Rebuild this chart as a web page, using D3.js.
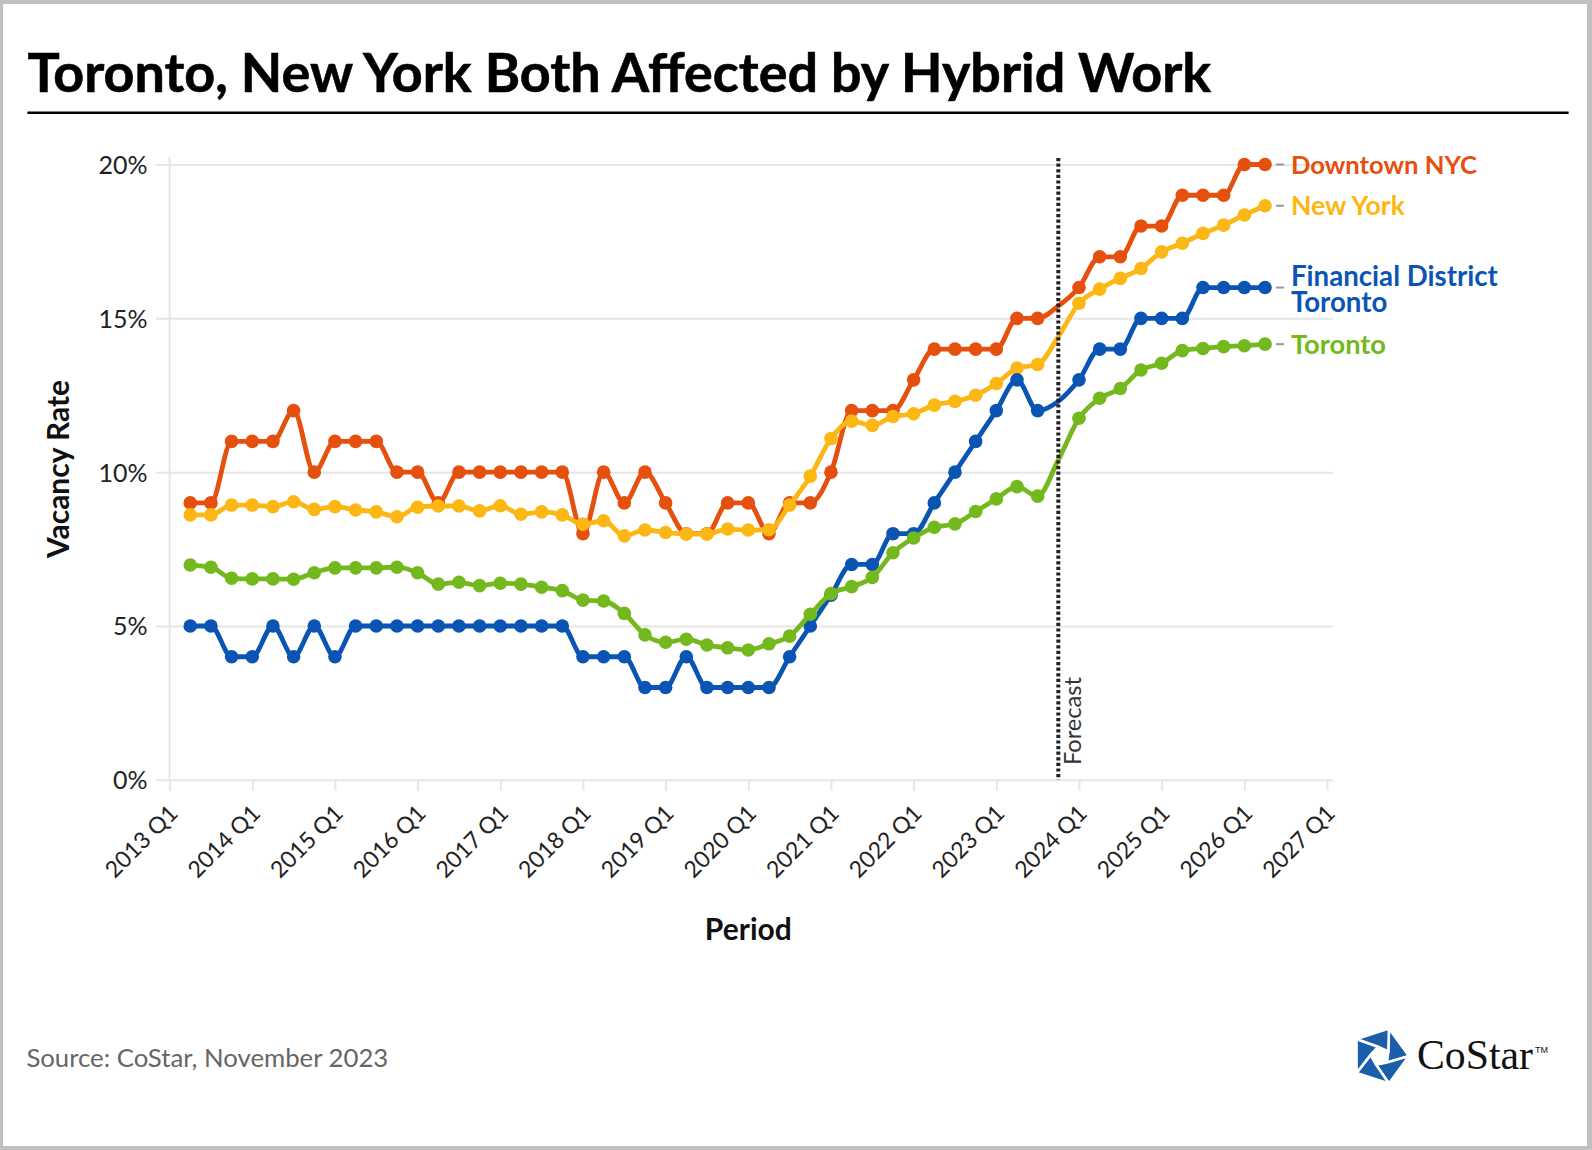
<!DOCTYPE html>
<html><head><meta charset="utf-8">
<script src="https://cdn.jsdelivr.net/npm/d3@7"></script>
<style>
html,body{margin:0;padding:0;background:#fff;}
svg{display:block;}
</style></head><body>
<svg id="chart" width="1592" height="1150"></svg>
<script>
// ---------------- DATA ----------------
const quarters = [
 "2013 Q2","2013 Q3","2013 Q4",
 "2014 Q1","2014 Q2","2014 Q3","2014 Q4",
 "2015 Q1","2015 Q2","2015 Q3","2015 Q4",
 "2016 Q1","2016 Q2","2016 Q3","2016 Q4",
 "2017 Q1","2017 Q2","2017 Q3","2017 Q4",
 "2018 Q1","2018 Q2","2018 Q3","2018 Q4",
 "2019 Q1","2019 Q2","2019 Q3","2019 Q4",
 "2020 Q1","2020 Q2","2020 Q3","2020 Q4",
 "2021 Q1","2021 Q2","2021 Q3","2021 Q4",
 "2022 Q1","2022 Q2","2022 Q3","2022 Q4",
 "2023 Q1","2023 Q2","2023 Q3","2023 Q4",
 "2024 Q1","2024 Q2","2024 Q3","2024 Q4",
 "2025 Q1","2025 Q2","2025 Q3","2025 Q4",
 "2026 Q1","2026 Q2"
];
const downtownNYC = [9,9,11,11,11,12,10,11,11,11,10,10,9,
 10,10,10,10,10,10,
 8,10,9,10,9,8,8,9,9,8,9,9,10,
 12,12,12,13,14,14,14,14,15,15,
 15.4,
 16,17,17,18,18,19,19,19,20,20];
const newYork = [8.61,8.61,8.93,8.93,8.88,9.04,8.79,8.88,8.77,8.71,8.55,8.86,8.90,
 8.90,8.74,8.91,8.63,8.71,8.61,8.31,8.42,7.93,8.12,8.04,7.99,7.99,8.15,8.12,8.13,8.93,9.87,11.09,
 11.66,11.52,11.81,11.90,12.18,12.30,12.50,12.88,13.38,13.50,
 14.4,
 15.49,15.95,16.30,16.62,17.16,17.44,17.76,18.03,18.36,18.66];
const financialDistrictToronto = [5,5,4,4,5,4,5,4,5,5,5,5,5,
 5,5,5,5,5,5,
 4,4,4,3,3,4,3,3,3,3,4,5,6,
 7,7,8,8,9,10,11,12,13,12,
 12.3,
 13,14,14,15,15,15,16,16,16,16];
const toronto = [6.98,6.91,6.55,6.53,6.53,6.52,6.73,6.89,6.89,6.89,6.91,6.73,6.36,
 6.42,6.31,6.39,6.36,6.26,6.15,5.84,5.81,5.41,4.71,4.47,4.57,4.38,4.29,4.22,4.42,4.67,5.38,6.05,
 6.28,6.58,7.38,7.86,8.21,8.32,8.72,9.13,9.53,9.22,
 10.4,
 11.75,12.40,12.72,13.32,13.54,13.95,14.02,14.08,14.11,14.16];
const seriesNames = ["Downtown NYC","New York","Financial District Toronto","Toronto"];
const seriesLabels = [["Downtown NYC"],["New York"],["Financial District","Toronto"],["Toronto"]];
const xTickLabels = ["2013 Q1","2014 Q1","2015 Q1","2016 Q1","2017 Q1","2018 Q1","2019 Q1",
 "2020 Q1","2021 Q1","2022 Q1","2023 Q1","2024 Q1","2025 Q1","2026 Q1","2027 Q1"];
const yTickValues = [0,5,10,15,20];
const forecastQuarter = "2023 Q4";

// ---------------- STYLE ----------------
const colors = {"Downtown NYC":"#E5500F","New York":"#FDB714",
  "Financial District Toronto":"#0A55B4","Toronto":"#73B91E"};
const FONT = "Lato, 'Open Sans', sans-serif";

function qIndex(label){ const p = label.split(" Q"); return (+p[0]-2013)*4 + (+p[1]-1); }
function fit(sel, target){
  const w = sel.node().getComputedTextLength();
  const fs = parseFloat(sel.attr("font-size"));
  if (w > 0) sel.attr("font-size", (fs*target/w).toFixed(2));
  return sel;
}

const svg = d3.select("#chart");
svg.append("rect").attr("width",1592).attr("height",1150).attr("fill","#c0c0c0");
svg.append("rect").attr("x",3).attr("y",4).attr("width",1584).attr("height",1142).attr("fill","#fff");

// title
const title = svg.append("text").attr("x",27.4).attr("y",92)
  .attr("font-family",FONT).attr("font-weight",700).attr("font-size",52).attr("fill","#000")
  .attr("stroke","#000").attr("stroke-width",0.6)
  .text("Toronto, New York Both Affected by Hybrid Work");
fit(title, 1184);
svg.append("line").attr("x1",27.4).attr("x2",1568.6).attr("y1",112.7).attr("y2",112.7)
  .attr("stroke","#000").attr("stroke-width",2.5);

// scales
const x = d3.scaleLinear().domain([0,56]).range([169.6,1327]);
const y = d3.scaleLinear().domain([0,20]).range([779.8,164.5]);

const gridColor = "#e6e6e6";
// gridlines
const gGrid = svg.append("g").attr("transform","translate(1333,0)")
  .call(d3.axisLeft(y).tickValues(yTickValues).tickSize(1333-156).tickFormat(""));
gGrid.select(".domain").remove();
gGrid.selectAll("line").attr("stroke",gridColor).attr("stroke-width",2);

// y axis labels
const gY = svg.append("g").attr("transform","translate(169.6,0)")
  .call(d3.axisLeft(y).tickValues(yTickValues).tickSize(0).tickPadding(22).tickFormat(d=>d+"%"));
gY.select(".domain").remove();
gY.selectAll("text").attr("font-family",FONT).attr("font-size",25).attr("fill","#222").attr("dy","0.36em");

// vertical axis line
svg.append("line").attr("x1",x(0)).attr("x2",x(0)).attr("y1",y(20.25)).attr("y2",y(0))
  .attr("stroke",gridColor).attr("stroke-width",2);

// x axis
const gX = svg.append("g").attr("transform",`translate(0,${y(0)})`)
  .call(d3.axisBottom(x).tickValues(xTickLabels.map(qIndex)).tickSize(11)
     .tickFormat((d,i)=>xTickLabels[i]));
gX.select(".domain").remove();
gX.selectAll("line").attr("stroke",gridColor).attr("stroke-width",2);
gX.selectAll("text").attr("font-family",FONT).attr("font-size",23).attr("fill","#222")
  .attr("x",0).attr("y",0).attr("dy",0).attr("text-anchor","end")
  .attr("transform","translate(9,35) rotate(-45)");

// axis titles
const yTitle = svg.append("text").attr("transform","translate(69,469) rotate(-90)")
  .attr("text-anchor","middle").attr("font-family",FONT).attr("font-weight",700)
  .attr("font-size",26).attr("fill","#111").text("Vacancy Rate");
fit(yTitle,178);
const xTitle = svg.append("text").attr("x",(x(0)+x(56))/2).attr("y",940)
  .attr("text-anchor","middle").attr("font-family",FONT).attr("font-weight",700)
  .attr("font-size",26).attr("fill","#111").text("Period");
fit(xTitle,87);

// series
const allSeries = [downtownNYC, newYork, financialDistrictToronto, toronto];
const line = d3.line().x((d,i)=>x(qIndex(quarters[i]))).y(d=>y(d)).curve(d3.curveMonotoneX);
allSeries.forEach((vals,si)=>{
  const name = seriesNames[si], c = colors[name];
  const g = svg.append("g");
  g.append("path").attr("d",line(vals)).attr("fill","none").attr("stroke",c)
    .attr("stroke-width",4.8).attr("stroke-linejoin","round").attr("stroke-linecap","round");
  g.selectAll("circle").data(vals.map((v,i)=>({v,q:quarters[i]})).filter(d=>d.q!==forecastQuarter))
    .join("circle").attr("cx",d=>x(qIndex(d.q))).attr("cy",d=>y(d.v)).attr("r",6.8).attr("fill",c);
});

// forecast line
svg.append("line").attr("x1",x(qIndex(forecastQuarter))).attr("x2",x(qIndex(forecastQuarter)))
  .attr("y1",158).attr("y2",y(0)).attr("stroke","#222").attr("stroke-width",4)
  .attr("stroke-dasharray","3.2,2.4");
const fc = svg.append("text").attr("transform",`translate(${x(qIndex(forecastQuarter))+23},765) rotate(-90)`)
  .attr("font-family",FONT).attr("font-size",20).attr("fill","#333").text("Forecast");
fit(fc,88);

// end labels
const labelWidths = [186,114,207,95];
allSeries.forEach((vals,si)=>{
  const name = seriesNames[si], c = colors[name];
  const last = vals[vals.length-1];
  const lx = x(qIndex(quarters[quarters.length-1]));
  const ly = y(last);
  svg.append("line").attr("x1",lx+11).attr("x2",lx+19).attr("y1",ly).attr("y2",ly)
    .attr("stroke","#999").attr("stroke-width",2);
  const lines = seriesLabels[si];
  const tx = svg.append("text").attr("x",lx+26).attr("font-family",FONT).attr("font-weight",700)
    .attr("font-size",26).attr("fill",c);
  const first = tx.append("tspan").attr("x",lx+26).text(lines[0]);
  const w = first.node().getComputedTextLength();
  const fs = 26*labelWidths[si]/w;
  tx.attr("font-size",fs.toFixed(2));
  if (lines.length===1){
    tx.attr("y", ly + 0.36*fs);
  } else {
    tx.attr("y", ly - 11.6 + 0.36*fs);
    tx.append("tspan").attr("x",lx+26).attr("dy",25.6).text(lines[1]);
  }
});

// source
const src = svg.append("text").attr("x",26.4).attr("y",1067).attr("font-family",FONT)
  .attr("font-size",25).attr("fill","#666").text("Source: CoStar, November 2023");
fit(src,362);

// CoStar logo
const cx0 = 1380, cy0 = 1056, R = 29, r = 9.5;
const gl = svg.append("g");
for (let k=0;k<5;k++){
  const a0 = (-90 + 72*k + 18)*Math.PI/180, a1 = (-90 + 72*(k+1) + 18)*Math.PI/180;
  const P0 = [cx0+R*Math.cos(a0), cy0+R*Math.sin(a0)];
  const P1 = [cx0+R*Math.cos(a1), cy0+R*Math.sin(a1)];
  const I0 = [cx0+r*Math.cos(a0+0.75), cy0+r*Math.sin(a0+0.75)];
  const I1 = [cx0+r*Math.cos(a1+0.75), cy0+r*Math.sin(a1+0.75)];
  gl.append("polygon").attr("points",[P0,P1,I1,I0].map(p=>p.join(",")).join(" "))
    .attr("fill","#1B5FAA").attr("stroke","#fff").attr("stroke-width",2.6).attr("stroke-linejoin","miter");
}
const cs = svg.append("text").attr("x",1417).attr("y",1069).attr("font-family","'Liberation Serif','DejaVu Serif',serif")
  .attr("font-size",36).attr("fill","#111").text("CoStar");
fit(cs,116);
svg.append("text").attr("x",1535).attr("y",1053).attr("font-family","'Liberation Sans',sans-serif")
  .attr("font-size",9).attr("fill","#111").text("TM");
</script>
</body></html>
